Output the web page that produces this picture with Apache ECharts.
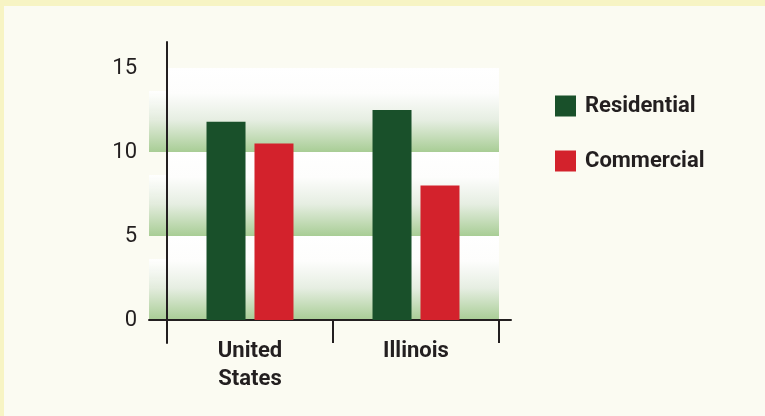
<!DOCTYPE html>
<html>
<head>
<meta charset="utf-8">
<script src="https://cdn.jsdelivr.net/npm/echarts@6/dist/echarts.min.js"></script>
<style>
  html, body { margin: 0; padding: 0; }
  #wrap { position: relative; width: 765px; height: 416px; background: #f7f4c4; overflow: hidden; }
  #inner { position: absolute; left: 4px; top: 6px; right: 0; bottom: 0; background: #fbfbf2; }
  #chart { position: absolute; left: 0; top: 0; width: 765px; height: 416px; }
</style>
</head>
<body>
<div id="wrap"><div id="inner"></div><div id="chart"></div></div>
<script>
const categories = ['United\nStates', 'Illinois'];
const residential = [11.8, 12.5];
const commercial = [10.5, 8.0];
const seriesNames = ['Residential', 'Commercial'];
const yTicks = { min: 0, max: 15, interval: 5 };

const ink = '#231f20';
const font = 'Roboto, "Liberation Sans Narrow", sans-serif';

const bandRight = new echarts.graphic.LinearGradient(0, 0, 0, 1, [
  { offset: 0, color: '#ffffff' },
  { offset: 0.3, color: '#fdfdfc' },
  { offset: 0.62, color: '#e6eee2' },
  { offset: 1, color: '#a8cd95' }
]);
const bandLeft = new echarts.graphic.LinearGradient(0, 0, 0, 1, [
  { offset: 0, color: 'rgba(255,255,255,0)' },
  { offset: 0.27, color: 'rgba(255,255,255,0)' },
  { offset: 0.28, color: 'rgba(255,255,255,0.9)' },
  { offset: 0.62, color: '#e3ecdd' },
  { offset: 1, color: '#a8cd95' }
]);

const chart = echarts.init(document.getElementById('chart'), null, { renderer: 'canvas' });
chart.setOption({
  animation: false,
  backgroundColor: 'transparent',
  grid: [
    { left: 167, right: 266, top: 68, bottom: 96 },
    { left: 149, width: 18, top: 68, bottom: 96 },
    { left: 149, right: 254, top: 68, bottom: 96 },
    { left: 167, right: 266, top: 42, bottom: 73 }
  ],
  xAxis: [
    {
      type: 'category', gridIndex: 0, data: categories,
      axisLine: { show: false },
      axisTick: { show: true, length: 23, inside: false, lineStyle: { color: ink, width: 2 } },
      axisLabel: { margin: 17, color: ink, fontFamily: font, fontSize: 22, fontWeight: 'bold', lineHeight: 28 },
      splitLine: { show: false }
    },
    { type: 'value', gridIndex: 1, show: false },
    {
      type: 'value', gridIndex: 2, min: 0, max: 1,
      axisLine: { show: true, onZero: false, lineStyle: { color: ink, width: 2 } },
      axisTick: { show: false }, axisLabel: { show: false }, splitLine: { show: false }
    },
    { type: 'value', gridIndex: 3, show: false }
  ],
  yAxis: [
    {
      type: 'value', gridIndex: 0, min: yTicks.min, max: yTicks.max, interval: yTicks.interval,
      axisLine: { show: false }, axisTick: { show: false },
      axisLabel: { margin: 30, color: ink, fontFamily: font, fontSize: 22 },
      splitLine: { show: false },
      splitArea: { show: true, areaStyle: { color: [bandRight] } }
    },
    {
      type: 'value', gridIndex: 1, min: yTicks.min, max: yTicks.max, interval: yTicks.interval,
      axisLine: { show: false }, axisTick: { show: false }, axisLabel: { show: false },
      splitLine: { show: false },
      splitArea: { show: true, areaStyle: { color: [bandLeft] } }
    },
    { type: 'value', gridIndex: 2, show: false },
    {
      type: 'value', gridIndex: 3, min: 0, max: 1,
      axisLine: { show: true, onZero: false, lineStyle: { color: ink, width: 2 } },
      axisTick: { show: false }, axisLabel: { show: false }, splitLine: { show: false }
    }
  ],
  legend: {
    orient: 'vertical', left: 555, top: 95, padding: 0,
    itemWidth: 21, itemHeight: 21, itemGap: 33,
    icon: 'rect',
    data: seriesNames,
    textStyle: { color: ink, fontFamily: font, fontSize: 22, fontWeight: 'bold', padding: [0, 0, 0, 4] }
  },
  series: [
    {
      name: seriesNames[0], type: 'bar', xAxisIndex: 0, yAxisIndex: 0,
      data: residential, barWidth: 39, barGap: '23%',
      itemStyle: { color: '#19502a' }
    },
    {
      name: seriesNames[1], type: 'bar', xAxisIndex: 0, yAxisIndex: 0,
      data: commercial, barWidth: 39, barGap: '23%',
      itemStyle: { color: '#d3222c' }
    }
  ]
});
</script>
</body>
</html>
